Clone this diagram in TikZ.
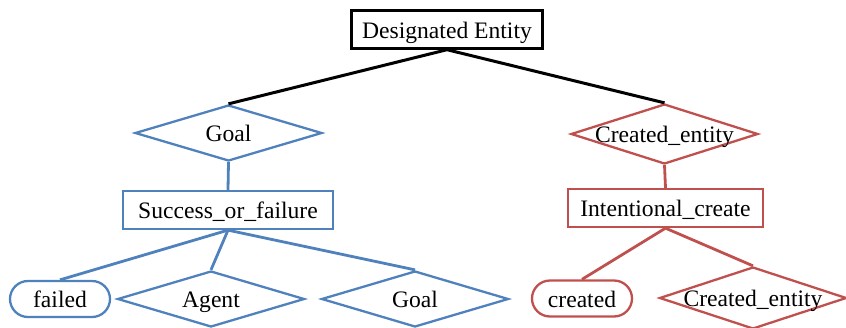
\documentclass[tikz,border=0pt]{standalone}
\usepackage{fontspec}
\setmainfont{Liberation Serif}
\usetikzlibrary{shapes.geometric}
\definecolor{fnblue}{RGB}{79,129,189}
\definecolor{fnred}{RGB}{192,80,77}
\newcommand{\goalcolor}{fnblue}
\newcommand{\createcolor}{fnred}
\newcommand{\fename}[1]{\makebox[0pt]{#1}}

\begin{document}
\begin{tikzpicture}[
      % GLOBAL CFG
      x=0.5pt, y=-0.5pt,
      font=\fontsize{11.8}{14}\selectfont,
      every node/.style={text height=10.5pt, text depth=2pt},
      % Styles
      frame/.style={% For frames
        rectangle,
        draw,
        line width=1.15pt,
        minimum height=19pt,
        inner sep=0pt
      },
      role/.style={% For frame elements
        diamond,
        draw,
        line width=1.15pt,
        inner sep=0pt,
        minimum width=93.5pt,
        minimum height=28pt
      },
      filler/.style={% For lexical fillers
        rectangle,
        rounded corners=9pt,
        draw,
        line width=1.15pt,
        minimum width=50pt,
        minimum height=18pt,
        inner sep=0pt
      },
      link/.style={
        line width=1.4pt
      }
      ]

      \useasboundingbox (0,0) rectangle (846,327);

      % Root
      \node [frame, line width=1.2pt, minimum width=95.5pt] (root) at (447,29.5){Designated Entity} ;

      % Left branch
      \node [role, draw=\goalcolor] (goal1) at (228.5,133){\fename{Goal}} ;
      \node [frame, draw=\goalcolor, minimum width=105pt] (success) at (228,210){Success\_or\_failure} ;
      \node [filler, draw=\goalcolor] (failed) at (60,299){failed} ;
      \node [role, draw=\goalcolor] (agent) at (211,299){\fename{Agent}} ;
      \node [role, draw=\goalcolor] (goal2) at (415,299){\fename{Goal}} ;

      % Right branch
      \node [role, draw=\createcolor, minimum height=30pt] (created1) at (664.5,134){\fename{Created\_entity}} ;
      \node [frame, draw=\createcolor, minimum width=97.5pt] (intent) at (665.5,208){Intentional\_create} ;
      \node [filler, draw=\createcolor] (created) at (582,298.5){created} ;
      \node [role, draw=\createcolor, minimum height=31pt] (created2) at (753,298){\fename{Created\_entity}} ;

      \draw [link, line width=1.5pt] (root.south) -- (goal1.north);
      \draw [link, line width=1.5pt] (root.south) -- (created1.north);

      \draw [link, \goalcolor] (goal1.south) -- (success.north);
      \draw [link, \goalcolor] (success.south) -- (failed.north);
      \draw [link, \goalcolor] (success.south) -- (agent.north);
      \draw [link, \goalcolor] (success.south) -- (goal2.north);

      \draw [link, \createcolor] (created1.south) -- (intent.north);
      \draw [link, \createcolor] (intent.south) -- (created.north);
      \draw [link, \createcolor] (intent.south) -- (created2.north);
    \end{tikzpicture}
\end{document}
